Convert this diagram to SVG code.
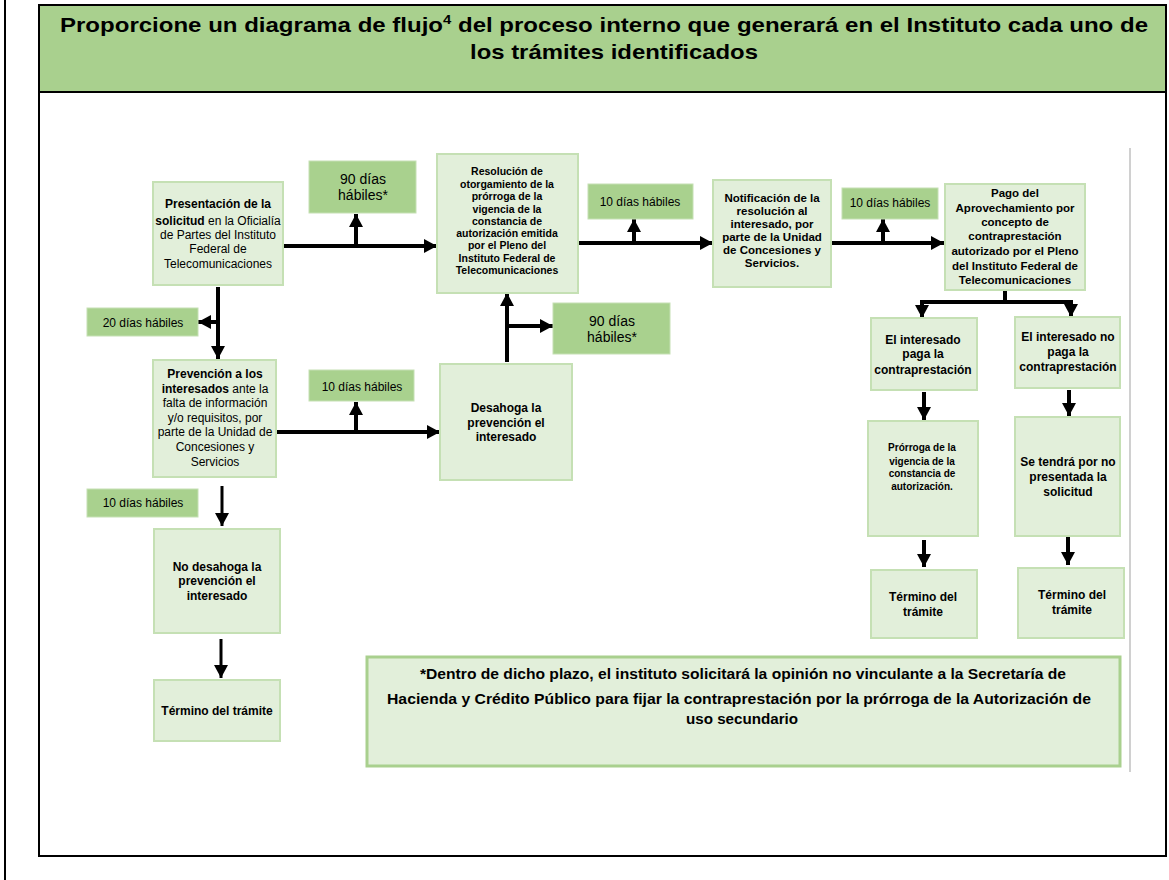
<svg xmlns="http://www.w3.org/2000/svg" width="1169" height="880" viewBox="0 0 1169 880">
<style>
.frame{fill:none;stroke:#000;stroke-width:2}
.lt{fill:#e2efda;stroke:#c5e0b4;stroke-width:2}
.dk{fill:#a9d18e;stroke:#c5e0b4;stroke-width:1}
.t{font-family:"Liberation Sans",Arial,sans-serif;fill:#000;text-anchor:middle}
.b{font-weight:bold}
.c{fill:none;stroke:#000;stroke-width:4}
.c3{fill:none;stroke:#000;stroke-width:3}
</style>
<defs>
<marker id="ah" markerUnits="userSpaceOnUse" markerWidth="14" markerHeight="14" refX="13" refY="7" orient="auto">
<path d="M0,0 L13,7 L0,14 Z" fill="#000"/>
</marker>
</defs>
<rect x="0" y="0" width="1169" height="880" fill="#fff"/>
<g id="frame">
<line x1="5" y1="0" x2="5" y2="880" stroke="#000" stroke-width="2"/>
<rect x="39" y="5" width="1127" height="87" fill="#a9d08e"/>
<rect class="frame" x="39" y="5" width="1127" height="851"/>
<line x1="39" y1="92" x2="1166" y2="92" stroke="#000" stroke-width="2"/>
<line x1="1130" y1="148" x2="1130" y2="772" stroke="#d0d0d0" stroke-width="2"/>
</g>
<g id="title">
<text class="t b" x="604" y="32" font-size="21" textLength="1088" lengthAdjust="spacingAndGlyphs">Proporcione un diagrama de flujo<tspan font-size="13" dy="-8">4</tspan><tspan dy="8"> del proceso interno que generará en el Instituto cada uno de</tspan></text>
<text class="t b" x="614" y="59" font-size="21" textLength="288" lengthAdjust="spacingAndGlyphs">los trámites identificados</text>
</g>
<g id="connectors">
<path class="c" d="M283,246 H437" marker-end="url(#ah)"/>
<path class="c" d="M356,246 V214" marker-end="url(#ah)"/>
<path class="c" d="M578,243 H713" marker-end="url(#ah)"/>
<path class="c" d="M634,243 V219" marker-end="url(#ah)"/>
<path class="c" d="M831,243 H944" marker-end="url(#ah)"/>
<path class="c" d="M883,243 V219" marker-end="url(#ah)"/>
<path class="c" d="M1005,290 V302"/>
<path class="c" d="M920,302 H1073"/>
<path class="c" d="M922,300 V318" marker-end="url(#ah)"/>
<path class="c" d="M1071,300 V317" marker-end="url(#ah)"/>
<path class="c" d="M924,392 V420" marker-end="url(#ah)"/>
<path class="c" d="M1069,390 V416" marker-end="url(#ah)"/>
<path class="c" d="M924,540 V567" marker-end="url(#ah)"/>
<path class="c" d="M1068,537 V565" marker-end="url(#ah)"/>
<path class="c" d="M218,287 V359" marker-end="url(#ah)"/>
<path class="c" d="M218,322 H198" marker-end="url(#ah)"/>
<path class="c" d="M272,432 H440" marker-end="url(#ah)"/>
<path class="c" d="M356,432 V402" marker-end="url(#ah)"/>
<path class="c" d="M507,362 V293" marker-end="url(#ah)"/>
<path class="c" d="M507,326 H553" marker-end="url(#ah)"/>
<path class="c3" d="M222,486 V526" marker-end="url(#ah)"/>
<path class="c3" d="M221,639 V678" marker-end="url(#ah)"/>
</g>
<g id="n-presentacion">
<rect class="lt" x="153" y="182" width="130" height="103"/>
<text class="t" font-size="12"><tspan x="218" y="208" font-weight="bold">Presentación de la</tspan><tspan x="218" y="225"><tspan font-weight="bold">solicitud</tspan> en la Oficialía</tspan><tspan x="218" y="239">de Partes del Instituto</tspan><tspan x="218" y="253">Federal de</tspan><tspan x="218" y="268">Telecomunicaciones</tspan></text>
</g>
<g id="n-90a">
<rect class="dk" x="309" y="161" width="107" height="52"/>
<text class="t" font-size="14"><tspan x="363" y="184">90 días</tspan><tspan x="363" y="200">hábiles*</tspan></text>
</g>
<g id="n-resolucion">
<rect class="lt" x="437" y="154" width="141" height="139" stroke-width="3"/>
<text class="t b" font-size="10.5"><tspan x="507" y="175">Resolución de</tspan><tspan x="507" y="188">otorgamiento de la</tspan><tspan x="507" y="200">prórroga de la</tspan><tspan x="507" y="213">vigencia de la</tspan><tspan x="507" y="225">constancia de</tspan><tspan x="507" y="237">autorización emitida</tspan><tspan x="507" y="249">por el Pleno del</tspan><tspan x="507" y="262">Instituto Federal de</tspan><tspan x="507" y="274">Telecomunicaciones</tspan></text>
</g>
<g id="n-10a">
<rect class="dk" x="588" y="184" width="105" height="35"/>
<text class="t" font-size="12" x="640" y="206">10 días hábiles</text>
</g>
<g id="n-notificacion">
<rect class="lt" x="713" y="180" width="118" height="107"/>
<text class="t b" font-size="11.5"><tspan x="772" y="202">Notificación de la</tspan><tspan x="772" y="215">resolución al</tspan><tspan x="772" y="228">interesado, por</tspan><tspan x="772" y="241">parte de la Unidad</tspan><tspan x="772" y="254">de Concesiones y</tspan><tspan x="772" y="267">Servicios.</tspan></text>
</g>
<g id="n-10b">
<rect class="dk" x="842" y="188" width="96" height="31"/>
<text class="t" font-size="12" x="890" y="207">10 días hábiles</text>
</g>
<g id="n-pago">
<rect class="lt" x="945" y="184" width="140" height="106"/>
<text class="t b" font-size="11.5"><tspan x="1015" y="197">Pago del</tspan><tspan x="1015" y="212">Aprovechamiento por</tspan><tspan x="1015" y="226">concepto de</tspan><tspan x="1015" y="240">contraprestación</tspan><tspan x="1015" y="255">autorizado por el Pleno</tspan><tspan x="1015" y="270">del Instituto Federal de</tspan><tspan x="1015" y="284">Telecomunicaciones</tspan></text>
</g>
<g id="n-20">
<rect class="dk" x="87" y="308" width="111" height="28"/>
<text class="t" font-size="12" x="143" y="327">20 días hábiles</text>
</g>
<g id="n-90b">
<rect class="dk" x="553" y="303" width="117" height="51"/>
<text class="t" font-size="14"><tspan x="612" y="326">90 días</tspan><tspan x="612" y="342">hábiles*</tspan></text>
</g>
<g id="n-prevencion">
<rect class="lt" x="153" y="360" width="123" height="117"/>
<text class="t" font-size="12"><tspan x="215" y="378" font-weight="bold">Prevención a los</tspan><tspan x="215" y="393"><tspan font-weight="bold">interesados</tspan> ante la</tspan><tspan x="215" y="407">falta de información</tspan><tspan x="215" y="422">y/o requisitos, por</tspan><tspan x="215" y="436">parte de la Unidad de</tspan><tspan x="215" y="451">Concesiones y</tspan><tspan x="215" y="466">Servicios</tspan></text>
</g>
<g id="n-10c">
<rect class="dk" x="309" y="370" width="105" height="31"/>
<text class="t" font-size="12" x="362" y="391">10 días hábiles</text>
</g>
<g id="n-desahoga">
<rect class="lt" x="440" y="364" width="132" height="116"/>
<text class="t b" font-size="12"><tspan x="506" y="412">Desahoga la</tspan><tspan x="506" y="427">prevención el</tspan><tspan x="506" y="441">interesado</tspan></text>
</g>
<g id="n-10d">
<rect class="dk" x="87" y="489" width="111" height="28"/>
<text class="t" font-size="12" x="143" y="507">10 días hábiles</text>
</g>
<g id="n-nodesahoga">
<rect class="lt" x="154" y="529" width="126" height="104"/>
<text class="t b" font-size="12"><tspan x="217" y="571">No desahoga la</tspan><tspan x="217" y="585">prevención el</tspan><tspan x="217" y="600">interesado</tspan></text>
</g>
<g id="n-termino1">
<rect class="lt" x="154" y="680" width="126" height="61"/>
<text class="t b" font-size="12" x="217" y="715">Término del trámite</text>
</g>
<g id="n-paga">
<rect class="lt" x="871" y="318" width="106" height="72"/>
<text class="t b" font-size="12"><tspan x="923" y="344">El interesado</tspan><tspan x="923" y="358">paga la</tspan><tspan x="923" y="374">contraprestación</tspan></text>
</g>
<g id="n-nopaga">
<rect class="lt" x="1015" y="317" width="105" height="71"/>
<text class="t b" font-size="12"><tspan x="1068" y="341">El interesado no</tspan><tspan x="1068" y="356">paga la</tspan><tspan x="1068" y="371">contraprestación</tspan></text>
</g>
<g id="n-prorroga">
<rect class="lt" x="868" y="421" width="110" height="115" stroke-width="3"/>
<text class="t b" font-size="10"><tspan x="922" y="451">Prórroga de la</tspan><tspan x="922" y="465">vigencia de la</tspan><tspan x="922" y="477">constancia de</tspan><tspan x="922" y="490">autorización.</tspan></text>
</g>
<g id="n-setendra">
<rect class="lt" x="1015" y="417" width="105" height="119"/>
<text class="t b" font-size="12"><tspan x="1068" y="466">Se tendrá por no</tspan><tspan x="1068" y="481">presentada la</tspan><tspan x="1068" y="496">solicitud</tspan></text>
</g>
<g id="n-termino2">
<rect class="lt" x="871" y="570" width="106" height="68"/>
<text class="t b" font-size="12"><tspan x="923" y="601">Término del</tspan><tspan x="923" y="616">trámite</tspan></text>
</g>
<g id="n-termino3">
<rect class="lt" x="1018" y="568" width="106" height="70"/>
<text class="t b" font-size="12"><tspan x="1072" y="599">Término del</tspan><tspan x="1072" y="614">trámite</tspan></text>
</g>
<g id="n-nota">
<rect x="367" y="657" width="753" height="109" fill="#e2efda" stroke="#a9d08e" stroke-width="3"/>
<text class="t b" font-size="15" x="743" y="679" textLength="646" lengthAdjust="spacingAndGlyphs">*Dentro de dicho plazo, el instituto solicitará la opinión no vinculante a la Secretaría de</text>
<text class="t b" font-size="15" x="739" y="704" textLength="704" lengthAdjust="spacingAndGlyphs">Hacienda y Crédito Público para fijar la contraprestación por la prórroga de la Autorización de</text>
<text class="t b" font-size="15" x="742" y="724" textLength="112" lengthAdjust="spacingAndGlyphs">uso secundario</text>
</g>
</svg>
